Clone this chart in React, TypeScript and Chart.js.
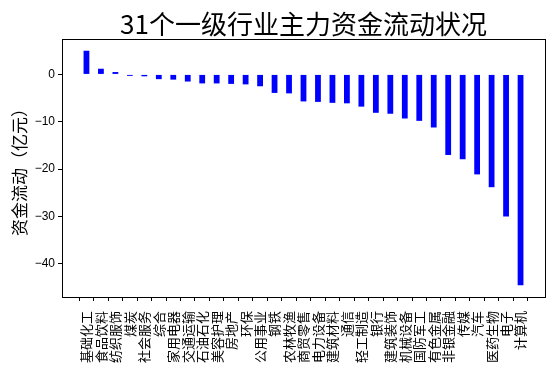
import React, { useEffect, useRef } from "react";
import { Chart, registerables } from "chart.js";

Chart.register(...registerables);

const TITLE = "31个一级行业主力资金流动状况";
const Y_LABEL = "资金流动（亿元）";

const categories = [
  "基础化工", "食品饮料", "纺织服饰", "煤炭", "社会服务", "综合", "家用电器", "交通运输",
  "石油石化", "美容护理", "房地产", "环保", "公用事业", "钢铁", "农林牧渔", "商贸零售",
  "电力设备", "建筑材料", "通信", "轻工制造", "银行", "建筑装饰", "机械设备", "国防军工",
  "有色金属", "非银金融", "传媒", "汽车", "医药生物", "电子", "计算机",
];

const flows = [
  5.0, 1.2, 0.5, -0.3, -0.4, -1.0, -1.1, -1.5,
  -1.9, -1.9, -2.0, -2.1, -2.5, -3.9, -4.0, -5.7,
  -5.8, -6.0, -6.1, -6.8, -8.1, -8.3, -9.3, -9.8,
  -11.2, -17.0, -17.9, -21.1, -23.8, -30.0, -44.5,
];

const yTicks = [-40, -30, -20, -10, 0];

const FONT = '"Liberation Sans", "Noto Sans CJK SC", sans-serif';
const CJK = '"Noto Sans CJK SC", "Liberation Sans", sans-serif';

const frameAndTitle = {
  id: "frameAndTitle",
  afterDatasetsDraw(chart: any) {
    // x-axis (drawn after datasets) gets the wider CJK spacing of the original
    (chart.ctx as any).letterSpacing = "2px";
  },
  afterDraw(chart: any) {
    const { ctx, chartArea } = chart;
    (ctx as any).letterSpacing = "0px";
    ctx.save();
    ctx.strokeStyle = "#000";
    ctx.lineWidth = 1;
    ctx.strokeRect(
      Math.round(chartArea.left) + 0.5,
      Math.round(chartArea.top) + 0.5,
      Math.round(chartArea.right - chartArea.left),
      Math.round(chartArea.bottom - chartArea.top)
    );
    ctx.fillStyle = "#000";
    ctx.font = `26px ${CJK}`;
    ctx.textAlign = "center";
    ctx.textBaseline = "middle";
    ctx.fillText(TITLE, (chartArea.left + chartArea.right) / 2, chartArea.top - 15);
    ctx.restore();
  },
};

export default function App() {
  const ref = useRef<HTMLCanvasElement | null>(null);

  useEffect(() => {
    if (!ref.current) return;
    const pad = 1.69;
    const chart = new Chart(ref.current, {
      type: "bar",
      data: {
        datasets: [
          {
            data: flows.map((v, i) => ({ x: i, y: v })),
            backgroundColor: "#0000ff",
            borderWidth: 0,
            categoryPercentage: 1,
            barPercentage: 0.4,
          },
        ],
      },
      options: {
        animation: false,
        responsive: false,
        devicePixelRatio: 1,
        layout: { padding: { left: 0, right: 10, top: 39, bottom: 0 } },
        plugins: {
          legend: { display: false },
          tooltip: { enabled: false },
          title: { display: false },
        },
        scales: {
          x: {
            type: "linear",
            z: 1,
            min: -pad,
            max: categories.length - 1 + pad,
            offset: false,
            border: { display: false },
            grid: {
              display: true,
              drawOnChartArea: false,
              drawTicks: true,
              tickLength: 4,
              tickColor: "#000",
              color: "#000",
            },
            afterBuildTicks: (scale: any) => {
              scale.ticks = categories.map((_, i) => ({ value: i }));
            },
            afterFit: (scale: any) => {
              scale.height = 74;
            },
            ticks: {
              autoSkip: false,
              maxRotation: 90,
              minRotation: 90,
              padding: 10,
              color: "#000",
              font: { family: CJK, size: 13 },
              callback: (v: any) => categories[v as number] ?? "",
            },
          },
          y: {
            type: "linear",
            min: -46.975,
            max: 7.475,
            border: { display: false },
            grid: {
              display: true,
              drawOnChartArea: false,
              drawTicks: true,
              tickLength: 4,
              tickColor: "#000",
              color: "#000",
            },
            afterBuildTicks: (scale: any) => {
              scale.ticks = yTicks.map((v) => ({ value: v }));
            },
            afterFit: (scale: any) => {
              scale.width = 62;
            },
            ticks: {
              padding: 3,
              color: "#000",
              font: { family: FONT, size: 12 },
              callback: (v: any) => String(v).replace("-", "\u2212"),
            },
            title: {
              display: true,
              text: Y_LABEL,
              color: "#000",
              font: { family: CJK, size: 17 },
              padding: { top: 9, bottom: 0 },
            },
          },
        },
      },
      plugins: [frameAndTitle],
    } as any);
    return () => chart.destroy();
  }, []);

  return (
    <div style={{ position: "absolute", left: 0, top: 0, width: 555, height: 371, background: "#fff" }}>
      <canvas ref={ref} width={555} height={371} style={{ width: 555, height: 371, display: "block" }} />
    </div>
  );
}
